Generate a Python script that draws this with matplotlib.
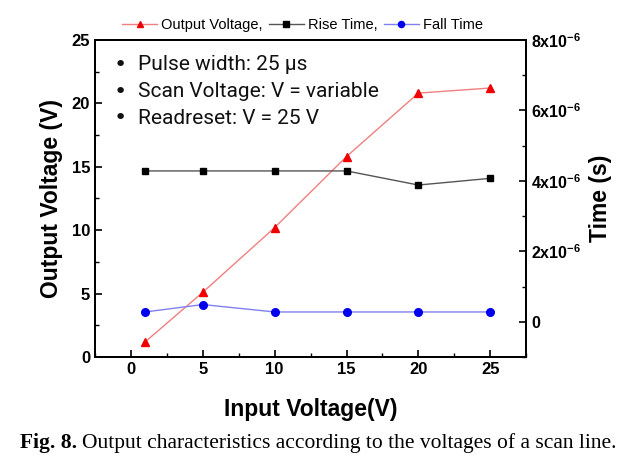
import numpy as np
import matplotlib
matplotlib.use("Agg")
import matplotlib.pyplot as plt
from matplotlib.ticker import MultipleLocator, FuncFormatter

# data
input_v = [1, 5, 10, 15, 20, 25]
output_v = [1.2, 5.1, 10.2, 15.8, 20.8, 21.2]
rise_time = [4.28e-6, 4.28e-6, 4.28e-6, 4.28e-6, 3.88e-6, 4.07e-6]
fall_time = [0.28e-6, 0.49e-6, 0.28e-6, 0.28e-6, 0.28e-6, 0.28e-6]

notes = ["Pulse width: 25 \u00b5s", "Scan Voltage: V = variable", "Readreset: V = 25 V"]

plt.rcParams['font.family'] = ['Liberation Sans', 'DejaVu Sans']
plt.rcParams['mathtext.fontset'] = 'custom'
plt.rcParams['mathtext.rm'] = 'Liberation Sans:bold'
plt.rcParams['mathtext.it'] = 'Liberation Sans:bold'
plt.rcParams['mathtext.bf'] = 'Liberation Sans:bold'

fig = plt.figure(figsize=(6.41, 4.68), dpi=100)
ax = fig.add_axes([0.148, 0.237, 0.673, 0.678])
ax2 = ax.twinx()

l1, = ax.plot(input_v, output_v, color='#f08080', lw=1.0, marker='^', ms=6,
              mfc='#ee0000', mec='#ee0000', label='Output Voltage,')
l2, = ax2.plot(input_v, rise_time, color='#555555', lw=1.0, marker='s', ms=5,
               mfc='black', mec='black', label='Rise Time,')
l3, = ax2.plot(input_v, fall_time, color='#8080f0', lw=1.0, marker='o', ms=5.5,
               mfc='#0000ee', mec='#0000ee', label='Fall Time')

ax.set_xlim(-2.5, 27.5)
ax.set_ylim(0, 25)
ax2.set_ylim(-1e-6, 8e-6)

ax.xaxis.set_major_locator(MultipleLocator(5))
ax.xaxis.set_minor_locator(MultipleLocator(2.5))
ax.yaxis.set_major_locator(MultipleLocator(5))
ax.yaxis.set_minor_locator(MultipleLocator(2.5))
ax2.yaxis.set_major_locator(MultipleLocator(2e-6))
ax2.yaxis.set_minor_locator(MultipleLocator(1e-6))


def time_fmt(v, pos):
    n = int(round(v * 1e6))
    if n == 0:
        return "0"
    return f"{n}x10$^{{-6}}$"


ax2.yaxis.set_major_formatter(FuncFormatter(time_fmt))

for a in (ax, ax2):
    a.tick_params(which='both', direction='in', top=False)
    a.tick_params(which='major', length=5, width=1.2, labelsize=12)
    a.tick_params(which='minor', length=3, width=1.0)
    for s in a.spines.values():
        s.set_linewidth(1.4)
ax2.tick_params(labelsize=11.5)
for lab in ax.get_xticklabels() + ax.get_yticklabels() + ax2.get_yticklabels():
    lab.set_fontweight('bold')

ax.set_xlabel("Input Voltage(V)", fontsize=16.5, fontweight='bold', labelpad=15)
ax.set_ylabel("Output Voltage (V)", fontsize=16.5, fontweight='bold', labelpad=6)
ax2.set_ylabel("Time (s)", fontsize=16.5, fontweight='bold', labelpad=6)

# bullet notes
for i, t in enumerate(notes):
    y = 0.921 - i * 0.084
    ax.text(0.058, y, "\u2022", transform=ax.transAxes, fontsize=16,
            family=['DejaVu Sans'], va='center', ha='center', color='#111111')
    ax.text(0.1, y, t, transform=ax.transAxes, fontsize=15,
            family=['Roboto', 'DejaVu Sans'], va='center', color='#111111')

fig.legend(handles=[l1, l2, l3], loc='center', bbox_to_anchor=(0.472, 0.947),
           ncol=3, frameon=False, fontsize=10.5, handlelength=2.4,
           handletextpad=0.3, columnspacing=0.4, markerscale=0.8)

# caption
fig.canvas.draw()
r = fig.canvas.get_renderer()
cap1 = fig.text(0.031, 0.054, "Fig. 8.", fontsize=15.5, fontweight='bold',
                family=['Liberation Serif'], va='center')
bb = cap1.get_window_extent(renderer=r)
x2 = (bb.x1 + 5) / fig.bbox.width
fig.text(x2, 0.054, "Output characteristics according to the voltages of a scan line.",
         fontsize=15.5, family=['Liberation Serif'], va='center')

fig.savefig("out.png", dpi=100)
